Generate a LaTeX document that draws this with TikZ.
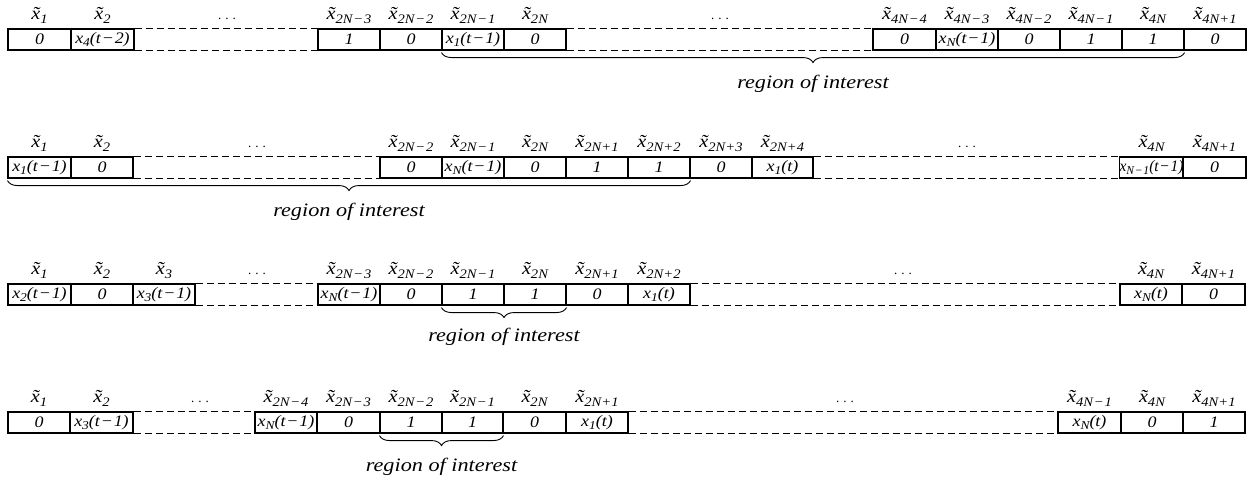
\documentclass[tikz,border=0pt]{standalone}
\usepackage{graphicx}
\usepackage{fontspec}
\setmainfont{Liberation Serif}
\usetikzlibrary{decorations.pathreplacing}
\newcommand\sx[1]{\scalebox{1.12}[1]{#1}}
\newcommand\sxr[1]{\scalebox{1.17}[1]{#1}}
\newcommand\xt[1]{\~{x}\raisebox{-4pt}{\fontsize{13}{13}\selectfont #1}}
\newcommand\xs[1]{x\raisebox{-3.5pt}{\fontsize{12}{12}\selectfont #1}}
\newcommand\mn{\kern0.8pt−\kern0.8pt}
\newcommand\cellfont{\fontsize{16}{16}\selectfont\itshape}
\newcommand\labfont{\fontsize{18}{18}\selectfont\itshape}
\newcommand\roifont{\fontsize{19}{19}\selectfont\itshape}
\tikzset{
  cellbox/.style={draw, line width=1.1pt, minimum height=21pt, inner sep=0pt, font=\cellfont},
  lab/.style={anchor=base, inner sep=0pt, font=\labfont},
  dashline/.style={line width=1pt, dash pattern=on 7pt off 4pt},
  roibrace/.style={decorate, decoration={brace, mirror, amplitude=10pt}, line width=0.9pt},
  roi/.style={font=\roifont, inner sep=0pt},
  dotsnode/.style={anchor=base, inner sep=0pt, font=\fontsize{13}{13}\selectfont}
}
% name, x1, x2, ytop, content, label
\newcommand\cell[6]{%
  \node[cellbox, minimum width={#3-#2}] (#1) at ({(#2+#3)/2},{#4+10.5}) {\sx{#5}};
  \node[lab] (#1l) at ({(#2+#3)/2},{#4-10}) {\sx{\xt{#6}}};
}
\newcommand\gap[2]{%
  \draw[dashline] (#1.north east) -- (#2.north west);
  \draw[dashline] (#1.south east) -- (#2.south west);
}
\newcommand\dotsat[3]{\node[dotsnode] (#1) at (#2,#3) {.\hspace{4pt}.\hspace{4pt}.};}
\begin{document}
\begin{tikzpicture}[x=1pt, y=-1pt]
\useasboundingbox (0,0) rectangle (1249,480);
% ---------- Row 1 ----------
\cell{a1}{8}{71}{29}{0}{1}
\cell{a2}{71}{134}{29}{\xs{4}(t\mn2)}{2}
\cell{a3}{318}{380}{29}{1}{2N\mn3}
\cell{a4}{380}{442}{29}{0}{2N\mn2}
\cell{a5}{442}{504}{29}{\xs{1}(t\mn1)}{2N\mn1}
\cell{a6}{504}{566}{29}{0}{2N}
\cell{a7}{873}{936}{29}{0}{4N\mn4}
\cell{a8}{936}{998}{29}{\xs{N}(t\mn1)}{4N\mn3}
\cell{a9}{998}{1060}{29}{0}{4N\mn2}
\cell{a10}{1060}{1122}{29}{1}{4N\mn1}
\cell{a11}{1122}{1184}{29}{1}{4N}
\cell{a12}{1184}{1246}{29}{0}{4N+1}
\gap{a2}{a3}
\gap{a6}{a7}
\dotsat{ad1}{227}{19}
\dotsat{ad2}{720}{19}
\draw[roibrace] ([yshift=-2pt]a5.south west) -- ([yshift=-2pt]a11.south east)
  node[roi, midway, below=22pt] (roi1) {\sxr{region of interest}};
% ---------- Row 2 ----------
\cell{b1}{8}{71}{157}{\xs{1}(t\mn1)}{1}
\cell{b2}{71}{133}{157}{0}{2}
\cell{b3}{380}{442}{157}{0}{2N\mn2}
\cell{b4}{442}{504}{157}{\xs{N}(t\mn1)}{2N\mn1}
\cell{b5}{504}{566}{157}{0}{2N}
\cell{b6}{566}{628}{157}{1}{2N+1}
\cell{b7}{628}{690}{157}{1}{2N+2}
\cell{b8}{690}{752}{157}{0}{2N+3}
\cell{b9}{752}{813}{157}{\xs{1}(t)}{2N+4}
\cell{b10}{1120}{1183}{157}{\scalebox{0.86}[1]{\xs{N\mn1}(t\mn1)}}{4N}
\cell{b11}{1183}{1246}{157}{0}{4N+1}
\gap{b2}{b3}
\gap{b9}{b10}
\dotsat{bd1}{257}{147}
\dotsat{bd2}{967}{147}
\draw[roibrace] ([yshift=-2pt]b1.south west) -- ([yshift=-2pt]b7.south east)
  node[roi, midway, below=22pt] (roi2) {\sxr{region of interest}};
% ---------- Row 3 ----------
\cell{c1}{8}{71}{284}{\xs{2}(t\mn1)}{1}
\cell{c2}{71}{133}{284}{0}{2}
\cell{c3}{133}{195}{284}{\xs{3}(t\mn1)}{3}
\cell{c4}{318}{380}{284}{\xs{N}(t\mn1)}{2N\mn3}
\cell{c5}{380}{442}{284}{0}{2N\mn2}
\cell{c6}{442}{504}{284}{1}{2N\mn1}
\cell{c7}{504}{566}{284}{1}{2N}
\cell{c8}{566}{628}{284}{0}{2N+1}
\cell{c9}{628}{690}{284}{\xs{1}(t)}{2N+2}
\cell{c10}{1120}{1182}{284}{\xs{N}(t)}{4N}
\cell{c11}{1182}{1245}{284}{0}{4N+1}
\gap{c3}{c4}
\gap{c9}{c10}
\dotsat{cd1}{257}{274}
\dotsat{cd2}{903}{274}
\draw[roibrace] ([yshift=-2pt]c6.south west) -- ([yshift=-2pt]c7.south east)
  node[roi, midway, below=20pt] (roi3) {\sxr{region of interest}};
% ---------- Row 4 ----------
\cell{d1}{8}{70}{412}{0}{1}
\cell{d2}{70}{133}{412}{\xs{3}(t\mn1)}{2}
\cell{d3}{255}{317}{412}{\xs{N}(t\mn1)}{2N\mn4}
\cell{d4}{317}{380}{412}{0}{2N\mn3}
\cell{d5}{380}{442}{412}{1}{2N\mn2}
\cell{d6}{442}{503}{412}{1}{2N\mn1}
\cell{d7}{503}{566}{412}{0}{2N}
\cell{d8}{566}{628}{412}{\xs{1}(t)}{2N+1}
\cell{d9}{1058}{1121}{412}{\xs{N}(t)}{4N\mn1}
\cell{d10}{1121}{1183}{412}{0}{4N}
\cell{d11}{1183}{1245}{412}{1}{4N+1}
\gap{d2}{d3}
\gap{d8}{d9}
\dotsat{dd1}{200}{402}
\dotsat{dd2}{845}{402}
\draw[roibrace] ([yshift=-2pt]d5.south west) -- ([yshift=-2pt]d6.south east)
  node[roi, midway, below=22pt] (roi4) {\sxr{region of interest}};
\end{tikzpicture}
\end{document}
